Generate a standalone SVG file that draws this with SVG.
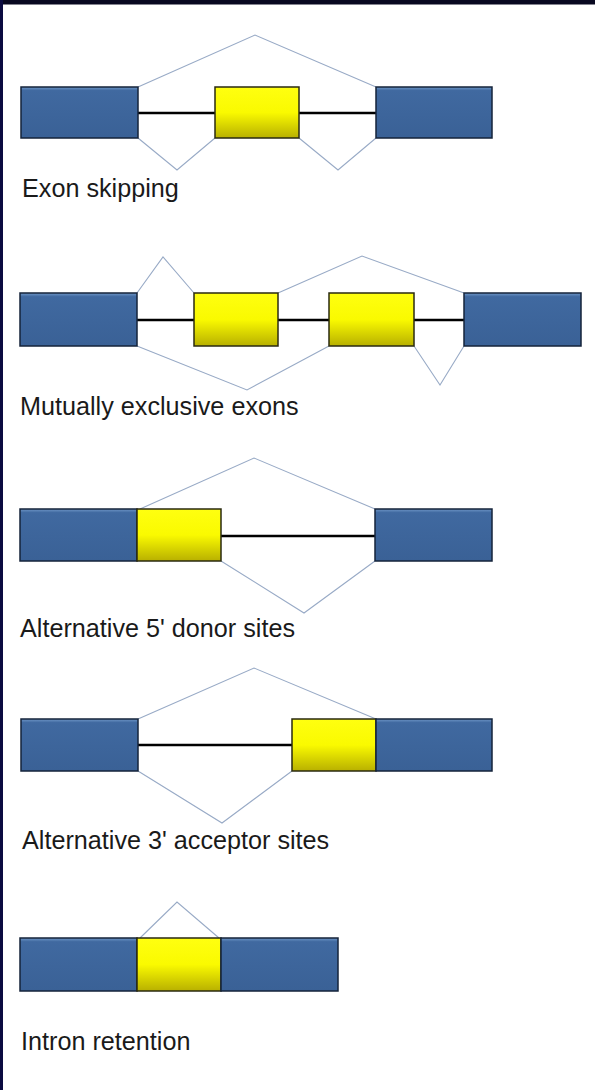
<svg xmlns="http://www.w3.org/2000/svg" width="595" height="1090" viewBox="0 0 595 1090">
<defs>
<linearGradient id="gBlue" x1="0" y1="0" x2="0" y2="1">
<stop offset="0" stop-color="#7098c8"/>
<stop offset="0.07" stop-color="#4069a0"/>
<stop offset="1" stop-color="#3a6196"/>
</linearGradient>
<linearGradient id="gYel" x1="0" y1="0" x2="0" y2="1">
<stop offset="0" stop-color="#ffff10"/>
<stop offset="0.5" stop-color="#fafa00"/>
<stop offset="1" stop-color="#b8b000"/>
</linearGradient>
<style>
.blue{fill:url(#gBlue);stroke:#14233a;stroke-width:1.5}
.yel{fill:url(#gYel);stroke:#2a2a10;stroke-width:1.5}
.intron{stroke:#000;stroke-width:2.6;fill:none}
.splice{stroke:#98aac6;stroke-width:1.1;fill:none;stroke-linejoin:miter}
.lbl{font-family:"Liberation Sans",Arial,sans-serif;font-size:25.2px;fill:#1a1a1a}
</style>
</defs>
<rect x="0" y="0" width="595" height="1090" fill="#ffffff"/>
<rect x="0" y="0" width="595" height="4.5" fill="#080820"/>
<rect x="0" y="0" width="3" height="1090" fill="#0b0b40"/>

<g id="connectors">
<!-- 1 exon skipping -->
<line class="intron" x1="138" y1="113" x2="215" y2="113"/>
<line class="intron" x1="299" y1="113" x2="376" y2="113"/>
<polyline class="splice" points="138,87 255,35 376,87"/>
<polyline class="splice" points="138,138 177,170 215,138"/>
<polyline class="splice" points="299,138 338,170 376,138"/>
<!-- 2 mutually exclusive -->
<line class="intron" x1="137" y1="320" x2="194" y2="320"/>
<line class="intron" x1="278" y1="320" x2="329" y2="320"/>
<line class="intron" x1="414" y1="320" x2="464" y2="320"/>
<polyline class="splice" points="137,293 163,257 194,293"/>
<polyline class="splice" points="278,293 362,256 464,293"/>
<polyline class="splice" points="137,346 247,390 329,346"/>
<polyline class="splice" points="414,346 440,385 464,346"/>
<!-- 3 alt 5' -->
<line class="intron" x1="221" y1="536" x2="375" y2="536"/>
<polyline class="splice" points="140,509 254,458 375,509"/>
<polyline class="splice" points="221,561 304,613 375,561"/>
<!-- 4 alt 3' -->
<line class="intron" x1="138" y1="745" x2="292" y2="745"/>
<polyline class="splice" points="138,719 254,668 376,719"/>
<polyline class="splice" points="138,771 222,823 292,771"/>
<!-- 5 intron retention -->
<polyline class="splice" points="140,938 177,902 219,938"/>
</g>

<g id="exon-skipping">
<rect class="blue" x="21" y="87" width="117" height="51"/>
<rect class="yel" x="215" y="87" width="84" height="51"/>
<rect class="blue" x="376" y="87" width="116" height="51"/>
<text class="lbl" x="22" y="197">Exon skipping</text>
</g>

<g id="mutually-exclusive">
<rect class="blue" x="20" y="293" width="117" height="53"/>
<rect class="yel" x="194" y="293" width="84" height="53"/>
<rect class="yel" x="329" y="293" width="85" height="53"/>
<rect class="blue" x="464" y="293" width="117" height="53"/>
<text class="lbl" x="20" y="415">Mutually exclusive exons</text>
</g>

<g id="alt-5-donor">
<rect class="blue" x="20" y="509" width="117" height="52"/>
<rect class="yel" x="137" y="509" width="84" height="52"/>
<rect class="blue" x="375" y="509" width="117" height="52"/>
<text class="lbl" x="20" y="637">Alternative 5' donor sites</text>
</g>

<g id="alt-3-acceptor">
<rect class="blue" x="21" y="719" width="117" height="52"/>
<rect class="yel" x="292" y="719" width="84" height="52"/>
<rect class="blue" x="376" y="719" width="116" height="52"/>
<text class="lbl" x="22" y="849">Alternative 3' acceptor sites</text>
</g>

<g id="intron-retention">
<rect class="blue" x="20" y="938" width="117" height="53"/>
<rect class="yel" x="137" y="938" width="84" height="53"/>
<rect class="blue" x="221" y="938" width="117" height="53"/>
<text class="lbl" x="21" y="1050">Intron retention</text>
</g>
</svg>
